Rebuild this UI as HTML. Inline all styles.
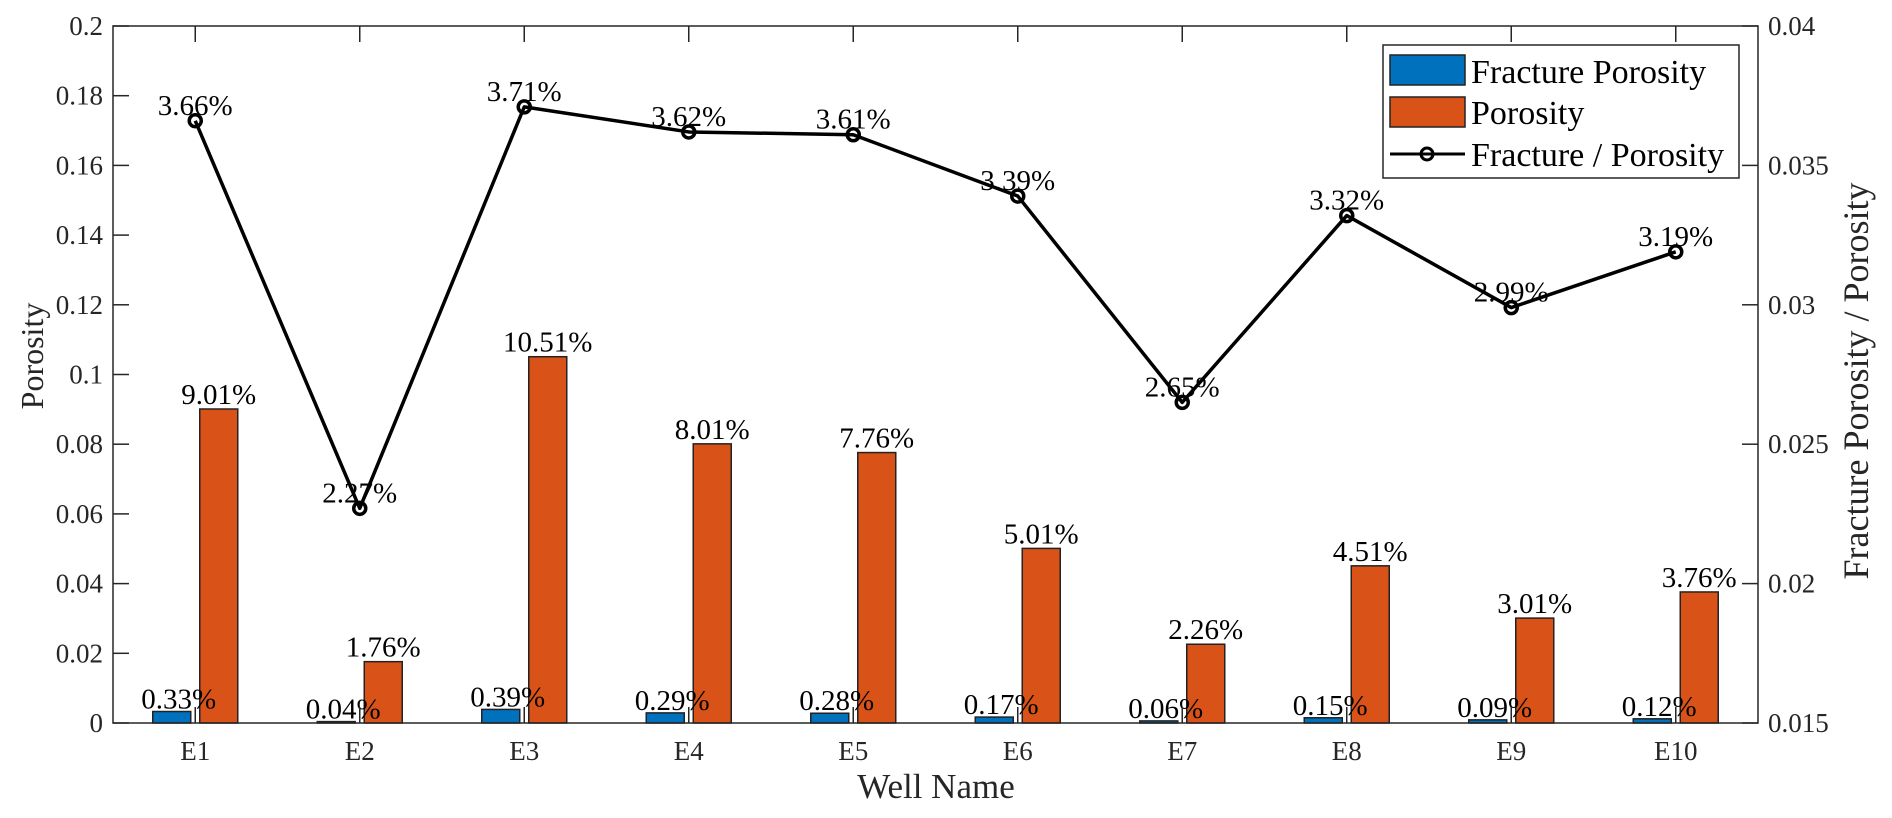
<!DOCTYPE html>
<html><head><meta charset="utf-8"><style>
html,body{margin:0;padding:0;background:#fff;}
svg{display:block;font-family:"Liberation Serif","Times New Roman",serif;}
</style></head><body>
<svg id="chart" width="1892" height="818" viewBox="0 0 1892 818">
<rect x="0" y="0" width="1892" height="818" fill="#fff"/>
<g id="bars"></g>
<g id="line"></g>
<g id="labels"></g>
<g id="axes"></g>
<text x="936" y="798" font-size="35" text-anchor="middle" fill="#262626">Well Name</text>
<text transform="translate(43,356) rotate(-90)" font-size="32" text-anchor="middle" fill="#262626">Porosity</text>
<text transform="translate(1868,381) rotate(-90)" font-size="36" text-anchor="middle" fill="#262626">Fracture Porosity / Porosity</text>
<g>
<rect x="1383" y="45" width="356" height="133" fill="#fff" stroke="#262626" stroke-width="1.5"/>
<g>
<rect x="1390" y="55" width="75" height="30" fill="#0072BD" stroke="#222" stroke-width="1.5"/>
<text x="1471" y="83" font-size="34" fill="#000">Fracture Porosity</text></g>
<g>
<rect x="1390" y="97" width="75" height="30" fill="#D95319" stroke="#222" stroke-width="1.5"/>
<text x="1471" y="124" font-size="34" fill="#000">Porosity</text></g>
<g>
<line x1="1390" y1="154" x2="1465" y2="154" stroke="#000" stroke-width="3"/>
<circle cx="1427" cy="154" r="6" fill="none" stroke="#000" stroke-width="3"/>
<text x="1471" y="166" font-size="34" fill="#000">Fracture / Porosity</text></g>
</g>
</svg>
<script>
const categories = ["E1","E2","E3","E4","E5","E6","E7","E8","E9","E10"];
const fracturePorosity = [0.0033,0.0004,0.0039,0.0029,0.0028,0.0017,0.0006,0.0015,0.0009,0.0012];
const porosity = [0.0901,0.0176,0.1051,0.0801,0.0776,0.0501,0.0226,0.0451,0.0301,0.0376];
const ratio = [0.0366,0.0227,0.0371,0.0362,0.0361,0.0339,0.0265,0.0332,0.0299,0.0319];
const leftTicks = [0,0.02,0.04,0.06,0.08,0.1,0.12,0.14,0.16,0.18,0.2];
const leftTickLabels = ["0","0.02","0.04","0.06","0.08","0.1","0.12","0.14","0.16","0.18","0.2"];
const rightTicks = [0.015,0.02,0.025,0.03,0.035,0.04];
const rightTickLabels = ["0.015","0.02","0.025","0.03","0.035","0.04"];

const NS="http://www.w3.org/2000/svg";
const L=113,R=1758,T=26,B=723;
const xS=i=>L+(R-L)*(i+0.5)/categories.length;
const yL=v=>B-(v-0)/(0.2-0)*(B-T);
const yR=v=>B-(v-0.015)/(0.04-0.015)*(B-T);
function mk(tag,attrs,parent,text){const e=document.createElementNS(NS,tag);for(const k in attrs)e.setAttribute(k,attrs[k]);if(text!==undefined)e.textContent=text;parent.appendChild(e);return e;}
const gb=document.getElementById('bars'),gl=document.getElementById('line'),gt=document.getElementById('labels'),ga=document.getElementById('axes');
const bw=38,off=23.5;
const pct=v=>(v*100).toFixed(2)+"%";
categories.forEach((c,i)=>{
  const cx=xS(i);
  let y1=yL(fracturePorosity[i]);
  const b1=mk('rect',{x:cx-off-bw/2,y:y1,width:bw,height:B-y1,fill:'#0072BD',stroke:'#222','stroke-width':1.5},gb);
  
  
  let y2=yL(porosity[i]);
  const b2=mk('rect',{x:cx+off-bw/2,y:y2,width:bw,height:B-y2,fill:'#D95319',stroke:'#222','stroke-width':1.5},gb);
  
  
  const t1=mk('text',{x:cx-off+7,y:y1-3,'font-size':29,'text-anchor':'middle',fill:'#000'},gt,pct(fracturePorosity[i]));
  
  
  const t2=mk('text',{x:cx+off,y:y2-5,'font-size':29,'text-anchor':'middle',fill:'#000'},gt,pct(porosity[i]));
  
  
});
const pts=ratio.map((v,i)=>xS(i)+","+yR(v)).join(" ");
const pl=mk('polyline',{points:pts,fill:'none',stroke:'#000','stroke-width':3.5,'stroke-linejoin':'round'},gl);


ratio.forEach((v,i)=>{
  const ci=mk('circle',{cx:xS(i),cy:yR(v),r:6,fill:'none',stroke:'#000','stroke-width':3.5},gl);
  
  
  const t=mk('text',{x:xS(i),y:yR(v)-6,'font-size':29,'text-anchor':'middle',fill:'#000'},gt,pct(v));
  
  
});
const box=mk('rect',{x:L,y:T,width:R-L,height:B-T,fill:'none',stroke:'#262626','stroke-width':1.5},ga);


leftTicks.forEach((v,i)=>{
  const y=yL(v);
  mk('line',{x1:L,y1:y,x2:L+16,y2:y,stroke:'#262626','stroke-width':1.5},ga);
  const t=mk('text',{x:L-10,y:y+9,'font-size':27,'text-anchor':'end',fill:'#262626'},ga,leftTickLabels[i]);
  
  
});
rightTicks.forEach((v,i)=>{
  const y=yR(v);
  mk('line',{x1:R-16,y1:y,x2:R,y2:y,stroke:'#262626','stroke-width':1.5},ga);
  const t=mk('text',{x:R+10,y:y+9,'font-size':27,'text-anchor':'start',fill:'#262626'},ga,rightTickLabels[i]);
  
  
});
categories.forEach((c,i)=>{
  const x=xS(i);
  mk('line',{x1:x,y1:B,x2:x,y2:B-16,stroke:'#262626','stroke-width':1.5},ga);
  mk('line',{x1:x,y1:T,x2:x,y2:T+16,stroke:'#262626','stroke-width':1.5},ga);
  const t=mk('text',{x:x,y:B+37,'font-size':27,'text-anchor':'middle',fill:'#262626'},ga,c);
  
  
});
</script>
</body></html>
